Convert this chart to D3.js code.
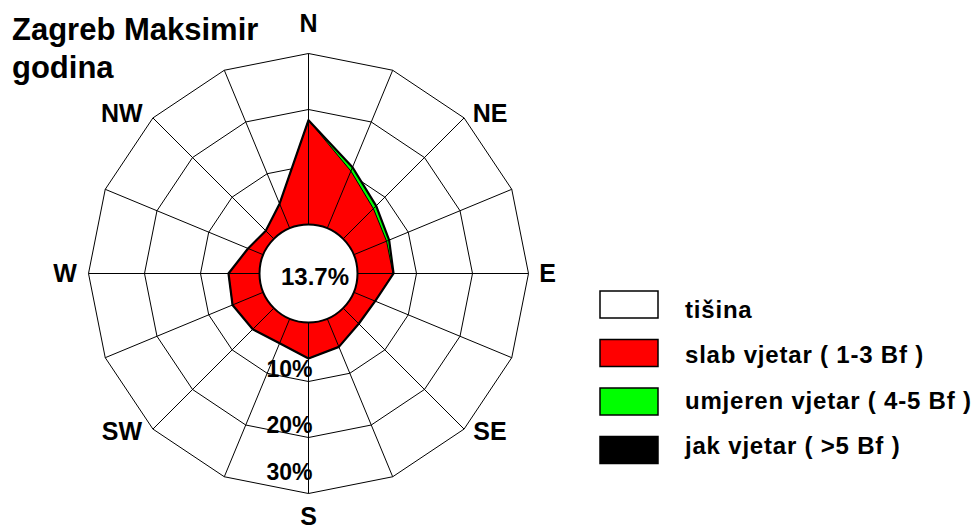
<!DOCTYPE html>
<html><head><meta charset="utf-8">
<script src="https://cdn.jsdelivr.net/npm/d3@7"></script>
<style>
html,body{margin:0;padding:0;background:#fff;}
svg{display:block;font-family:"Liberation Sans",Arial,Helvetica,sans-serif;font-weight:bold;}
</style></head>
<body>
<svg id="chart" width="980" height="529"></svg>
<script>
// ---- data ----
const directions = ["N","NNE","NE","ENE","E","ESE","SE","SSE","S","SSW","SW","WSW","W","WNW","NW","NNW"];
const dirLabels = ["N","NE","E","SE","S","SW","W","NW"];
const slab    = [18.1,10.5,7.1,5.8,5.8,3.6,3.4,4.9,5.9,4.2,4.8,5.4,5.0,2.4,1.5,4.2];
const umjeren = [0.0,0.7,0.65,0.5,0.1,0.0,0.0,0.0,0.0,0.0,0.0,0.0,0.0,0.0,0.0,0.0];
const jak     = [0.0,0.05,0.05,0.0,0.0,0.0,0.0,0.0,0.0,0.0,0.0,0.0,0.0,0.0,0.0,0.0];
const calm = 13.7;
const ringValues = [10,20,30];
const ringLabels = ["10%","20%","30%"];
const legendItems = ["tišina","slab vjetar ( 1-3 Bf )","umjeren vjetar ( 4-5 Bf )","jak vjetar ( >5 Bf )"];
const legendColors = ["#ffffff","#ff0000","#00ff00","#000000"];
const titleLines = ["Zagreb Maksimir","godina"];

// ---- layout ----
const svg = d3.select("#chart");
const cx = 308.5, cy = 273.5;
const calmR = 49;
const r = d3.scaleLinear().domain([0,30]).range([52,220]);
const ang = d3.scalePoint().domain(directions).range([0, 2*Math.PI*15/16]);

const g = svg.append("g").attr("transform",`translate(${cx},${cy})`);
const radial = d3.lineRadial().angle(d=>ang(d.dir)).radius(d=>r(d.v)).curve(d3.curveLinearClosed);

// rings
g.selectAll("path.ring").data(ringValues).join("path")
  .attr("class","ring")
  .attr("d", v => radial(directions.map(dir=>({dir, v}))))
  .attr("fill","none").attr("stroke","#000").attr("stroke-width",1);

// stacked layers
const cum1 = slab;
const cum2 = slab.map((d,i)=>d+umjeren[i]);
const cum3 = cum2.map((d,i)=>d+jak[i]);
const layers = [
  {vals:cum3, fill:"#000000"},
  {vals:cum2, fill:"#00ff00"},
  {vals:cum1, fill:"#ff0000"}
];
g.selectAll("path.layer").data(layers).join("path")
  .attr("class","layer")
  .attr("d", L => radial(directions.map((dir,i)=>({dir, v:L.vals[i]}))))
  .attr("fill", L=>L.fill).attr("stroke","none");

// spokes
g.selectAll("line.spoke").data(directions).join("line")
  .attr("class","spoke")
  .attr("x1", d=>calmR*Math.sin(ang(d))).attr("y1", d=>-calmR*Math.cos(ang(d)))
  .attr("x2", d=>r(30)*Math.sin(ang(d))).attr("y2", d=>-r(30)*Math.cos(ang(d)))
  .attr("stroke","#000").attr("stroke-width",1);

// outlines
g.append("path")
  .attr("d", radial(directions.map((dir,i)=>({dir, v:cum1[i]}))))
  .attr("fill","none").attr("stroke","#000").attr("stroke-width",1);
g.append("path")
  .attr("d", radial(directions.map((dir,i)=>({dir, v:cum3[i]}))))
  .attr("fill","none").attr("stroke","#000").attr("stroke-width",2.2).attr("stroke-linejoin","round");

// calm circle
g.append("circle").attr("r",calmR).attr("fill","#fff").attr("stroke","#000").attr("stroke-width",2);
g.append("text").attr("x",6.5).attr("y",11.5).attr("text-anchor","middle")
  .attr("font-size",24).text(calm.toFixed(1)+"%");

// ring labels
const ringOffsets = [5,5,14];
g.selectAll("text.rl").data(ringValues).join("text")
  .attr("class","rl")
  .attr("x",4).attr("y",(v,i)=>r(v)-ringOffsets[i])
  .attr("text-anchor","end").attr("font-size",23)
  .text((v,i)=>ringLabels[i]);

// direction labels (text placement offsets from centre)
const labelPos = {N:[0,-242], NE:[181.5,-152], E:[239,8.2], SE:[181.5,166.5], S:[0,251], SW:[-186.5,166.5], W:[-243.5,8.2], NW:[-186.8,-152]};
g.selectAll("text.dl").data(dirLabels).join("text")
  .attr("class","dl")
  .attr("x", d=>labelPos[d][0])
  .attr("y", d=>labelPos[d][1])
  .attr("text-anchor","middle").attr("font-size",25)
  .text(d=>d);

// title
svg.selectAll("text.title").data(titleLines).join("text")
  .attr("class","title")
  .attr("x",12).attr("y",(d,i)=>40+i*38)
  .attr("font-size",31).text(d=>d);

// legend
const leg = svg.append("g").attr("transform","translate(600,291)");
leg.selectAll("rect").data(legendItems).join("rect")
  .attr("y",(d,i)=>i*48.5)
  .attr("width",58).attr("height",27)
  .attr("fill",(d,i)=>legendColors[i]).attr("stroke","#000").attr("stroke-width",1.5);
leg.selectAll("text").data(legendItems).join("text")
  .attr("x",85).attr("y",(d,i)=>26.5+i*45.6).attr("font-size",24)
  .attr("letter-spacing",0.8).text(d=>d);
</script>
</body></html>
